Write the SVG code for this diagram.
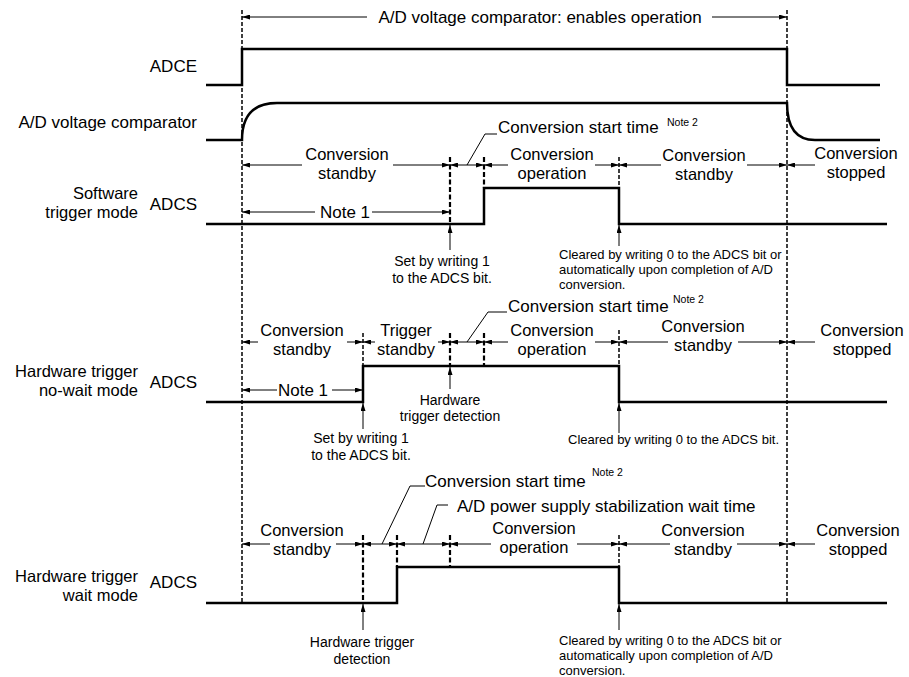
<svg xmlns="http://www.w3.org/2000/svg" width="909" height="677" viewBox="0 0 909 677">
<style>
text{font-family:"Liberation Sans",Arial,sans-serif;font-size:17px;fill:#000}
.ml{font-size:16.5px}
.sm{font-size:14px}
.xs{font-size:13px}
.nt{font-size:10.5px}
.c{text-anchor:middle}
.r{text-anchor:end}
.sig{fill:none;stroke:#000;stroke-width:2.5;stroke-linejoin:miter}
.dl{fill:none;stroke:#000;stroke-width:1.5;stroke-dasharray:4 2}
.db{fill:none;stroke:#000;stroke-width:2.2;stroke-dasharray:5 2.5}
.ar{fill:none;stroke:#000;stroke-width:1;marker-end:url(#ah)}
.ld{fill:none;stroke:#000;stroke-width:1}
</style>
<defs>
<marker id="ah" viewBox="0 0 8 5" refX="8" refY="2.5" markerWidth="8" markerHeight="5" orient="auto" markerUnits="userSpaceOnUse">
<path d="M0,0 L8,2.5 L0,5 z" fill="#000"/>
</marker>
</defs>
<rect width="909" height="677" fill="#fff"/>

<g id="guides">
<line class="dl" x1="242" y1="10" x2="242" y2="604"/>
<line class="dl" x1="787" y1="10" x2="787" y2="604"/>
<line class="db" x1="450" y1="157" x2="450" y2="224"/>
<line class="db" x1="484" y1="157" x2="484" y2="188"/>
<line class="dl" x1="619" y1="157" x2="619" y2="188"/>
<line class="dl" x1="363" y1="333" x2="363" y2="366"/>
<line class="db" x1="450" y1="333" x2="450" y2="366"/>
<line class="db" x1="484" y1="333" x2="484" y2="366"/>
<line class="dl" x1="619" y1="330" x2="619" y2="366"/>
<line class="db" x1="363" y1="535" x2="363" y2="603"/>
<line class="db" x1="397" y1="535" x2="397" y2="567"/>
<line class="db" x1="450" y1="535" x2="450" y2="567"/>
<line class="dl" x1="619" y1="535" x2="619" y2="567"/>
</g>

<g id="adce">
<text class="r" x="197" y="72">ADCE</text>
<path class="sig" d="M206,85 H242 V49 H787 V85 H880"/>
</g>
<g id="comparator">
<text class="r" x="197" y="128">A/D voltage comparator</text>
<path class="sig" d="M206,140 H242 Q242,103 277,103 H787 Q787,140 815,140 H880"/>
</g>
<g id="sw-row">
<text class="r ml" x="138" y="198.5">Software</text>
<text class="r ml" x="138" y="217.5">trigger mode</text>
<text class="r" x="197" y="210">ADCS</text>
<path class="sig" d="M206,224 H484 V188 H619 V224 H887"/>
</g>
<g id="hw-nowait-row">
<text class="r ml" x="138" y="377">Hardware trigger</text>
<text class="r ml" x="138" y="396">no-wait mode</text>
<text class="r" x="197" y="388">ADCS</text>
<path class="sig" d="M206,402 H363 V366 H619 V402 H887"/>
</g>
<g id="hw-wait-row">
<text class="r ml" x="138" y="581.5">Hardware trigger</text>
<text class="r ml" x="138" y="600.5">wait mode</text>
<text class="r" x="197" y="588">ADCS</text>
<path class="sig" d="M206,603 H397 V567 H619 V603 H887"/>
</g>

<g id="top-label">
<text class="c" x="540" y="23">A/D voltage comparator: enables operation</text>
</g>

<g id="sw-labels">
<text class="c ml" x="347" y="159.5">Conversion</text>
<text class="c ml" x="347" y="178.5">standby</text>
<text class="c" x="345" y="218">Note 1</text>
<text x="498" y="133">Conversion start time</text>
<text class="nt" x="667" y="126">Note 2</text>
<text class="c ml" x="552" y="159.5">Conversion</text>
<text class="c ml" x="552" y="178.5">operation</text>
<text class="c ml" x="704" y="161">Conversion</text>
<text class="c ml" x="704" y="180">standby</text>
<text class="c ml" x="856" y="159">Conversion</text>
<text class="c ml" x="856" y="178">stopped</text>
<text class="c sm" x="442" y="266.4">Set by writing 1</text>
<text class="c sm" x="442" y="282.6">to the ADCS bit.</text>
<text class="xs" x="559" y="259">Cleared by writing 0 to the ADCS bit or</text>
<text class="xs" x="559" y="274">automatically upon completion of A/D</text>
<text class="xs" x="559" y="289">conversion.</text>
</g>

<g id="hw-nowait-labels">
<text class="c ml" x="302" y="335.5">Conversion</text>
<text class="c ml" x="302" y="354.5">standby</text>
<text class="c ml" x="406" y="335.5">Trigger</text>
<text class="c ml" x="406" y="354.5">standby</text>
<text class="c" x="303" y="396">Note 1</text>
<text x="508" y="312">Conversion start time</text>
<text class="nt" x="673" y="303">Note 2</text>
<text class="c ml" x="552" y="336">Conversion</text>
<text class="c ml" x="552" y="355">operation</text>
<text class="c ml" x="703" y="332">Conversion</text>
<text class="c ml" x="703" y="351">standby</text>
<text class="c ml" x="862" y="336">Conversion</text>
<text class="c ml" x="862" y="355">stopped</text>
<text class="c sm" x="450" y="404.9">Hardware</text>
<text class="c sm" x="450" y="421.1">trigger detection</text>
<text class="c sm" x="361" y="443.4">Set by writing 1</text>
<text class="c sm" x="361" y="459.6">to the ADCS bit.</text>
<text class="xs" x="568" y="444">Cleared by writing 0 to the ADCS bit.</text>
</g>

<g id="hw-wait-labels">
<text class="c ml" x="302" y="535.5">Conversion</text>
<text class="c ml" x="302" y="554.5">standby</text>
<text x="425" y="487">Conversion start time</text>
<text class="nt" x="592" y="476">Note 2</text>
<text x="457" y="512">A/D power supply stabilization wait time</text>
<text class="c ml" x="534" y="533.5">Conversion</text>
<text class="c ml" x="534" y="552.5">operation</text>
<text class="c ml" x="703" y="536">Conversion</text>
<text class="c ml" x="703" y="555">standby</text>
<text class="c ml" x="858" y="535.5">Conversion</text>
<text class="c ml" x="858" y="554.5">stopped</text>
<text class="c sm" x="362" y="647.4">Hardware trigger</text>
<text class="c sm" x="362" y="663.6">detection</text>
<text class="xs" x="559" y="645">Cleared by writing 0 to the ADCS bit or</text>
<text class="xs" x="559" y="660">automatically upon completion of A/D</text>
<text class="xs" x="559" y="675">conversion.</text>
</g>

<g id="connectors">
<line class="ar" x1="367" y1="17" x2="242" y2="17"/>
<line class="ar" x1="712" y1="17" x2="787" y2="17"/>
<line class="ar" x1="302" y1="165" x2="242" y2="165"/>
<line class="ar" x1="393" y1="165" x2="450" y2="165"/>
<line class="ar" x1="467" y1="165" x2="450" y2="165"/>
<line class="ar" x1="467" y1="165" x2="484" y2="165"/>
<line class="ar" x1="508" y1="165" x2="484" y2="165"/>
<line class="ar" x1="595" y1="165" x2="619" y2="165"/>
<line class="ar" x1="661" y1="165" x2="619" y2="165"/>
<line class="ar" x1="747" y1="165" x2="787" y2="165"/>
<line class="ar" x1="815" y1="165" x2="787" y2="165"/>
<line class="ar" x1="315" y1="212" x2="242" y2="212"/>
<line class="ar" x1="372" y1="212" x2="450" y2="212"/>
<path class="ld" d="M467,165 L485,134 H497"/>
<line class="ar" x1="450" y1="250" x2="450" y2="225"/>
<line class="ar" x1="619" y1="246" x2="619" y2="225"/>
<line class="ar" x1="258" y1="342" x2="242" y2="342"/>
<line class="ar" x1="347" y1="342" x2="363" y2="342"/>
<line class="ar" x1="375" y1="342" x2="363" y2="342"/>
<line class="ar" x1="438" y1="342" x2="450" y2="342"/>
<line class="ar" x1="467" y1="342" x2="450" y2="342"/>
<line class="ar" x1="467" y1="342" x2="484" y2="342"/>
<line class="ar" x1="508" y1="342" x2="484" y2="342"/>
<line class="ar" x1="595" y1="342" x2="619" y2="342"/>
<line class="ar" x1="668" y1="342" x2="619" y2="342"/>
<line class="ar" x1="738" y1="342" x2="787" y2="342"/>
<line class="ar" x1="815" y1="342" x2="787" y2="342"/>
<line class="ar" x1="277" y1="390" x2="242" y2="390"/>
<line class="ar" x1="332" y1="390" x2="363" y2="390"/>
<path class="ld" d="M467,342 L488,312 H507"/>
<line class="ar" x1="450" y1="389" x2="450" y2="367"/>
<line class="ar" x1="363" y1="429" x2="363" y2="403"/>
<line class="ar" x1="619" y1="433" x2="619" y2="403"/>
<line class="ar" x1="270" y1="544" x2="242" y2="544"/>
<line class="ar" x1="336" y1="544" x2="363" y2="544"/>
<line class="ar" x1="380" y1="544" x2="363" y2="544"/>
<line class="ar" x1="380" y1="544" x2="397" y2="544"/>
<line class="ar" x1="423" y1="544" x2="397" y2="544"/>
<line class="ar" x1="423" y1="544" x2="450" y2="544"/>
<line class="ar" x1="491" y1="544" x2="450" y2="544"/>
<line class="ar" x1="577" y1="544" x2="619" y2="544"/>
<line class="ar" x1="670" y1="544" x2="619" y2="544"/>
<line class="ar" x1="737" y1="544" x2="787" y2="544"/>
<line class="ar" x1="815" y1="544" x2="787" y2="544"/>
<path class="ld" d="M382,544 L410,486 H425"/>
<path class="ld" d="M423,544 L437,505 H448"/>
<line class="ar" x1="363" y1="630" x2="363" y2="604"/>
<line class="ar" x1="619" y1="630" x2="619" y2="604"/>
</g>
</svg>
